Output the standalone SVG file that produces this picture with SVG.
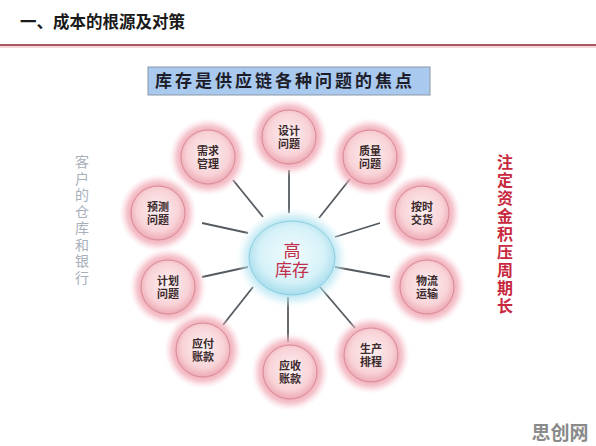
<svg xmlns="http://www.w3.org/2000/svg" width="596" height="446" viewBox="0 0 596 446">
<defs>
<radialGradient id="pinkFill" cx="50%" cy="45%" r="55%">
<stop offset="0" stop-color="#fdf0f1"/>
<stop offset="0.7" stop-color="#f8d3d8"/>
<stop offset="1" stop-color="#eeaab4"/>
</radialGradient>
<radialGradient id="pinkGlow" cx="50%" cy="50%" r="50%">
<stop offset="0.6" stop-color="#ec94a3" stop-opacity="0.95"/>
<stop offset="0.8" stop-color="#f2b0bc" stop-opacity="0.7"/>
<stop offset="1" stop-color="#fbe0e5" stop-opacity="0"/>
</radialGradient>
<radialGradient id="cyanFill" cx="50%" cy="45%" r="55%">
<stop offset="0" stop-color="#f2fcfe"/>
<stop offset="0.7" stop-color="#d5f1f8"/>
<stop offset="1" stop-color="#a6dcec"/>
</radialGradient>
<radialGradient id="cyanGlow" cx="50%" cy="50%" r="50%">
<stop offset="0.65" stop-color="#8fd6ea" stop-opacity="0.9"/>
<stop offset="0.85" stop-color="#bfe8f3" stop-opacity="0.55"/>
<stop offset="1" stop-color="#e6f7fb" stop-opacity="0"/>
</radialGradient>
<style>
.glow{fill:url(#pinkGlow);}
.sat{fill:url(#pinkFill);stroke:#d98a98;stroke-width:1;}
.lbl{font-family:"Noto Sans CJK SC","Noto Sans",sans-serif;font-size:11px;font-weight:bold;fill:#3a2a2c;text-anchor:middle;}
.conn line{stroke:#555b60;stroke-width:1.8;}
.vl{font-family:"Noto Sans CJK SC",sans-serif;font-size:14px;fill:#a8b0bc;writing-mode:vertical-rl;letter-spacing:2.5px;}
.vr{font-family:"Noto Sans CJK SC",sans-serif;font-size:16px;font-weight:bold;fill:#c8283e;writing-mode:vertical-rl;letter-spacing:2px;}
</style>
</defs>
<rect width="596" height="446" fill="#ffffff"/>

<g id="title">
<text x="20" y="28" font-family="'Noto Sans CJK SC',sans-serif" font-size="16.5" font-weight="bold" fill="#1a1a1a">一、成本的根源及对策</text>
<line x1="0" y1="45" x2="596" y2="45" stroke="#8b1e2c" stroke-width="1.6"/>
<line x1="0" y1="47" x2="596" y2="47" stroke="#f0c8cc" stroke-width="1.5"/>
</g>

<g id="banner">
<rect x="148" y="67" width="282" height="28" fill="#a9c9ef" stroke="#8a96a6" stroke-width="1"/>
<text x="155" y="87" font-family="'Noto Sans CJK SC',sans-serif" font-size="17" font-weight="bold" letter-spacing="3" fill="#1d1d2a">库存是供应链各种问题的焦点</text>
</g>

<g id="connectors" class="conn">
<line x1="233" y1="180" x2="263" y2="217"/>
<line x1="289" y1="170" x2="289" y2="213"/>
<line x1="202" y1="223" x2="248" y2="233"/>
<line x1="350" y1="179" x2="319" y2="218"/>
<line x1="380" y1="223" x2="335" y2="237"/>
<line x1="202" y1="277" x2="248" y2="267"/>
<line x1="223" y1="325" x2="253" y2="287"/>
<line x1="288" y1="297" x2="288" y2="342"/>
<line x1="335" y1="267" x2="390" y2="277"/>
<line x1="320" y1="287" x2="355" y2="328"/>
</g>

<g id="center">
<ellipse cx="292" cy="258" rx="56" ry="50" fill="url(#cyanGlow)"/>
<ellipse cx="292" cy="258" rx="43" ry="37" fill="url(#cyanFill)" stroke="#8ccfe2" stroke-width="1"/>
<text font-family="'Noto Sans CJK SC',sans-serif" font-size="17" fill="#c0304a" text-anchor="middle"><tspan x="292" y="257">高</tspan><tspan x="292" y="276">库存</tspan></text>
</g>

<g id="n-design"><circle class="glow" cx="289" cy="137" r="39"/><circle class="sat" cx="289" cy="137" r="27"/><text class="lbl"><tspan x="289" y="134.5">设计</tspan><tspan x="289" y="147.5">问题</tspan></text></g>
<g id="n-demand"><circle class="glow" cx="208" cy="157" r="39"/><circle class="sat" cx="208" cy="157" r="27"/><text class="lbl"><tspan x="208" y="154.5">需求</tspan><tspan x="208" y="167.5">管理</tspan></text></g>
<g id="n-quality"><circle class="glow" cx="370" cy="157" r="39"/><circle class="sat" cx="370" cy="157" r="27"/><text class="lbl"><tspan x="370" y="154.5">质量</tspan><tspan x="370" y="167.5">问题</tspan></text></g>
<g id="n-forecast"><circle class="glow" cx="158" cy="213" r="39"/><circle class="sat" cx="158" cy="213" r="27"/><text class="lbl"><tspan x="158" y="210.5">预测</tspan><tspan x="158" y="223.5">问题</tspan></text></g>
<g id="n-delivery"><circle class="glow" cx="422" cy="213" r="39"/><circle class="sat" cx="422" cy="213" r="27"/><text class="lbl"><tspan x="422" y="210.5">按时</tspan><tspan x="422" y="223.5">交货</tspan></text></g>
<g id="n-plan"><circle class="glow" cx="168" cy="287" r="39"/><circle class="sat" cx="168" cy="287" r="27"/><text class="lbl"><tspan x="168" y="284.5">计划</tspan><tspan x="168" y="297.5">问题</tspan></text></g>
<g id="n-logistics"><circle class="glow" cx="427" cy="287" r="39"/><circle class="sat" cx="427" cy="287" r="27"/><text class="lbl"><tspan x="427" y="284.5">物流</tspan><tspan x="427" y="297.5">运输</tspan></text></g>
<g id="n-payable"><circle class="glow" cx="203" cy="350" r="39"/><circle class="sat" cx="203" cy="350" r="27"/><text class="lbl"><tspan x="203" y="347.5">应付</tspan><tspan x="203" y="360.5">账款</tspan></text></g>
<g id="n-receivable"><circle class="glow" cx="290" cy="372" r="39"/><circle class="sat" cx="290" cy="372" r="27"/><text class="lbl"><tspan x="290" y="369.5">应收</tspan><tspan x="290" y="382.5">账款</tspan></text></g>
<g id="n-production"><circle class="glow" cx="371" cy="355" r="39"/><circle class="sat" cx="371" cy="355" r="27"/><text class="lbl"><tspan x="371" y="352.5">生产</tspan><tspan x="371" y="365.5">排程</tspan></text></g>

<g id="left-note">
<text class="vl" x="82" y="155">客户的仓库和银行</text>
</g>

<g id="right-note">
<text class="vr" x="505" y="154">注定资金积压周期长</text>
</g>

<g id="watermark">
<text x="560" y="440" font-family="'Noto Sans CJK SC',sans-serif" font-size="19" font-weight="bold" fill="#8a8a8a" text-anchor="middle">思创网</text>
</g>
</svg>
